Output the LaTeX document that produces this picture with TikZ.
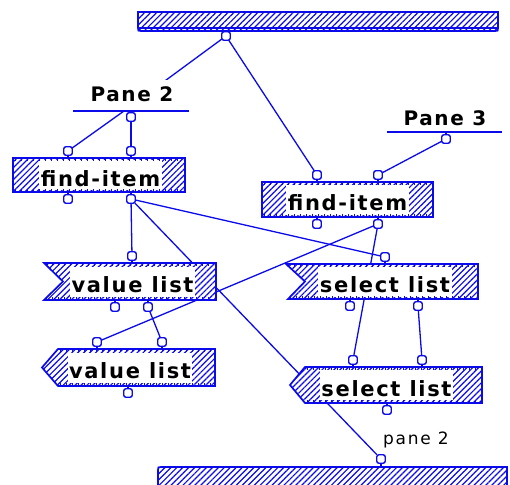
\documentclass[tikz,border=0pt]{standalone}
\usepackage{fontspec}
\usetikzlibrary{patterns.meta,backgrounds}
\newfontfamily\opfont[LetterSpace=8]{DejaVu Sans}
\newfontfamily\lblfont[LetterSpace=10]{DejaVu Sans}
\definecolor{mblue}{RGB}{10,10,235}
\tikzset{
  term/.style={draw=mblue, fill=white, line width=1.4pt, rounded corners=2.2pt, minimum size=8.5pt, inner sep=0pt, outer sep=0pt},
  wire/.style={draw=mblue, line width=1.3pt},
  stem/.style={draw=mblue, line width=2pt},
  opfill/.style={preaction={fill=white}, pattern={Lines[angle=45,distance=4.2pt,line width=1.2pt]}, pattern color=mblue},
  boxedge/.style={draw=mblue, line width=1.7pt, line join=miter},
  ticks/.style={draw=mblue, line width=2.8pt, dash pattern=on 1.3pt off 4.7pt},
  optext/.style={font=\opfont\bfseries\fontsize{21}{24}\selectfont, fill=white, inner xsep=1.5pt, inner ysep=0pt, text height=26pt, text depth=4pt},
  panelab/.style={font=\opfont\bfseries\fontsize{20}{22}\selectfont, fill=white, anchor=base, inner xsep=2pt, inner ysep=2pt, text height=20pt, text depth=7pt},
  smalllab/.style={font=\lblfont\fontsize{17}{20}\selectfont, anchor=base west, inner sep=0pt},
}
\begin{document}
\begin{tikzpicture}[x=1pt,y=-1pt]
\useasboundingbox (0,0) rectangle (510,484);

% ---- top bar
\path[opfill] (138,12) -- (498,12) -- (498,28) .. controls (498,31) .. (495,31) -- (141,31) .. controls (138,31) .. (138,28) -- cycle;
\draw[boxedge] (138,12) -- (498,12) -- (498,28) .. controls (498,31) .. (495,31) -- (141,31) .. controls (138,31) .. (138,28) -- cycle;
\draw[boxedge, line width=1.2pt] (138,28) -- (498,28);

% ---- bottom bar
\path[opfill] (158,492) -- (158,470) .. controls (158,467) .. (161,467) -- (507,467) -- (507,492) -- cycle;
\draw[boxedge] (158,492) -- (158,470) .. controls (158,467) .. (161,467) -- (507,467) -- (507,492);

% ---- find-item 1
\path[opfill] (13,158) rectangle (185,192);
\node[optext] (f1) at (100.5,175) {find-item};
\draw[ticks] (15,159.3) -- (183,159.3) (15,190.7) -- (183,190.7);
\draw[boxedge] (13,158) rectangle (185,192);

% ---- find-item 2
\path[opfill] (262,182) rectangle (433,217);
\node[optext] (f2) at (347.5,199.5) {find-item};
\draw[ticks] (264,183.3) -- (431,183.3) (264,215.7) -- (431,215.7);
\draw[boxedge] (262,182) rectangle (433,217);

% ---- value list 1 (notched left)
\path[opfill] (44,263) -- (216,263) -- (216,300) -- (44,300) -- (63,281.5) -- cycle;
\node[optext] (v1) at (132.5,281.5) {value list};
\draw[ticks] (46,264.3) -- (214,264.3) (46,298.7) -- (214,298.7);
\draw[boxedge] (44,263) -- (216,263) -- (216,300) -- (44,300) -- (63,281.5) -- cycle;

% ---- value list 2 (pointed left)
\path[opfill] (58,349) -- (215,349) -- (215,386) -- (58,386) -- (42,367.5) -- cycle;
\node[optext] (v2) at (130,367.5) {value list};
\draw[ticks] (60,350.3) -- (213,350.3) (60,384.7) -- (213,384.7);
\draw[boxedge] (58,349) -- (215,349) -- (215,386) -- (58,386) -- (42,367.5) -- cycle;

% ---- select list 1 (notched left)
\path[opfill] (286,264) -- (478,264) -- (478,299) -- (288,299) -- (305,281.5) -- cycle;
\node[optext] (s1) at (385,281.5) {select list};
\draw[ticks] (288,265.3) -- (476,265.3) (290,297.7) -- (476,297.7);
\draw[boxedge] (286,264) -- (478,264) -- (478,299) -- (288,299) -- (305,281.5) -- cycle;

% ---- select list 2 (pointed left)
\path[opfill] (305,367) -- (482,367) -- (482,403) -- (305,403) -- (290,385) -- cycle;
\node[optext] (s2) at (386.5,385) {select list};
\draw[ticks] (307,368.3) -- (480,368.3) (307,401.7) -- (480,401.7);
\draw[boxedge] (305,367) -- (482,367) -- (482,403) -- (305,403) -- (290,385) -- cycle;

% ---- pane labels
\node[panelab] (p2lab) at (132,102) {Pane 2};
\coordinate (p2l) at (73,111);
\coordinate (p2r) at (189,111);
\coordinate (p2j) at (124,111);
\draw[wire, line width=1.6pt] (p2l) -- (p2r);
\node[panelab] (p3lab) at (445,125) {Pane 3};
\coordinate (p3l) at (387,132);
\coordinate (p3r) at (502,132);
\draw[wire, line width=1.6pt] (p3l) -- (p3r);
\node[smalllab] (lab) at (383,444) {pane 2};

% ---- terminals (with stems towards their operation)
\foreach \n/\x/\y/\d in {
  t0/226/36/-5, p2o/131/117/-6, p3o/446/139/-7,
  f1i1/68/151/7, f1i2/131/151/7, f1o1/68/199/-7, f1o2/131/199/-7,
  f2i1/317/175/7, f2i2/378/175/7, f2o1/317/224/-7, f2o2/378/224/-7,
  v1i/132/256/7, v1o1/115/307/-7, v1o2/148/307/-7,
  v2i1/97/342/7, v2i2/162/342/7, v2o/128/393/-7,
  s1i/385/257/7, s1o1/350/306/-7, s1o2/418/306/-7,
  s2i1/353/360/7, s2i2/422/360/7, s2o/387/410/-7,
  b0/381/459/8}
{
  \draw[stem] (\x,\y) -- (\x,{\y+\d});
  \node[term] (\n) at (\x,\y) {};
}

% ---- connectors (behind everything)
\begin{pgfonlayer}{background}
\draw[wire] (t0) -- (p2j);
\draw[wire] (p2j) -- (f1i1);
\draw[wire] (p2o) -- (f1i2);
\draw[wire] (t0) -- (f2i1);
\draw[wire] (p3o) -- (f2i2);
\draw[wire] (f1o2) -- (v1i);
\draw[wire] (f1o2) -- (b0);
\draw[wire] (f1o2) -- (s1i);
\draw[wire] (f2o2) -- (v2i1);
\draw[wire] (f2o2) -- (s2i1);
\draw[wire] (v1o2) -- (v2i2);
\draw[wire] (s1o2) -- (s2i2);
\end{pgfonlayer}
\end{tikzpicture}
\end{document}
